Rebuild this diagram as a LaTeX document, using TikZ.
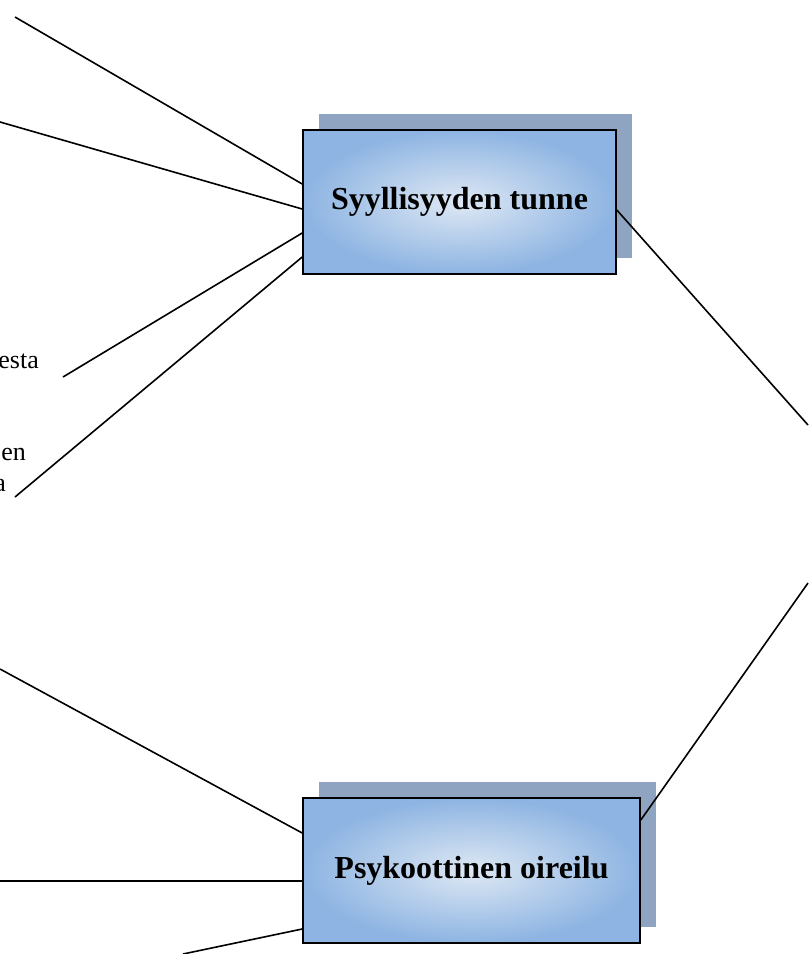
\documentclass[tikz,border=0pt]{standalone}
\usepackage{fontspec}
\setmainfont{Liberation Serif}
\usepackage{tikz}
\usetikzlibrary{shadows}
\definecolor{boxedge}{RGB}{141,180,226}
\definecolor{boxcore}{RGB}{222,232,244}
\definecolor{boxshadow}{RGB}{143,164,192}

\begin{document}
\begin{tikzpicture}[x=1pt,y=-1pt]
    \tikzstyle{theme box}=[rectangle,draw=black,line width=1.6pt,inner color=boxcore,outer color=boxedge,
        general shadow={fill=boxshadow,shadow xshift=16pt,shadow yshift=16pt},
        font=\fontsize{32}{38}\selectfont\bfseries]
    \tikzstyle{side text}=[inner sep=0pt,font=\fontsize{26}{31}\selectfont]
    \tikzstyle{link}=[draw=black,line width=1.6pt]

    \useasboundingbox (0,0) rectangle (810,954);

    % Draw the two theme boxes
    \node[theme box,minimum width=313pt,minimum height=144pt] (guilt) at (459.5,202) {Syyllisyyden tunne};
    \node[theme box,minimum width=337pt,minimum height=145pt] (psych) at (471.5,870.5) {Psykoottinen oireilu};

    % Labels cut off at the left edge
    \node[side text,anchor=base east] (T-1) at (39,368) {esta};
    \node[side text,anchor=base east] (T-2) at (26,460) {en};
    \node[side text,anchor=base east] (T-3) at (6,491) {a};

    % Free ends of the connectors
    \foreach \name/\x/\y in {1/15/17,2/0/122,3/63/377,4/15/497}
        \coordinate (L-\name) at (\x,\y);
    \foreach \name/\x/\y in {1/0/669,2/0/881,3/183/954}
        \coordinate (B-\name) at (\x,\y);
    \coordinate (R-1) at (808,425);
    \coordinate (R-2) at (808,583);

    % Connect the left ends with the guilt box
    \foreach \source/\dy in {1/18,2/-7,3/-31,4/-55}
        \path[link] (L-\source) -- ([yshift=\dy pt]guilt.west);

    % Connect the left ends with the psychosis box
    \foreach \source/\dy in {1/37.5,2/-10.5,3/-58.5}
        \path[link] (B-\source) -- ([yshift=\dy pt]psych.west);

    % Lines leaving to the right
    \path[link] ([yshift=-8pt]guilt.east) -- (R-1);
    \path[link] ([yshift=50.5pt]psych.east) -- (R-2);
\end{tikzpicture}
\end{document}
